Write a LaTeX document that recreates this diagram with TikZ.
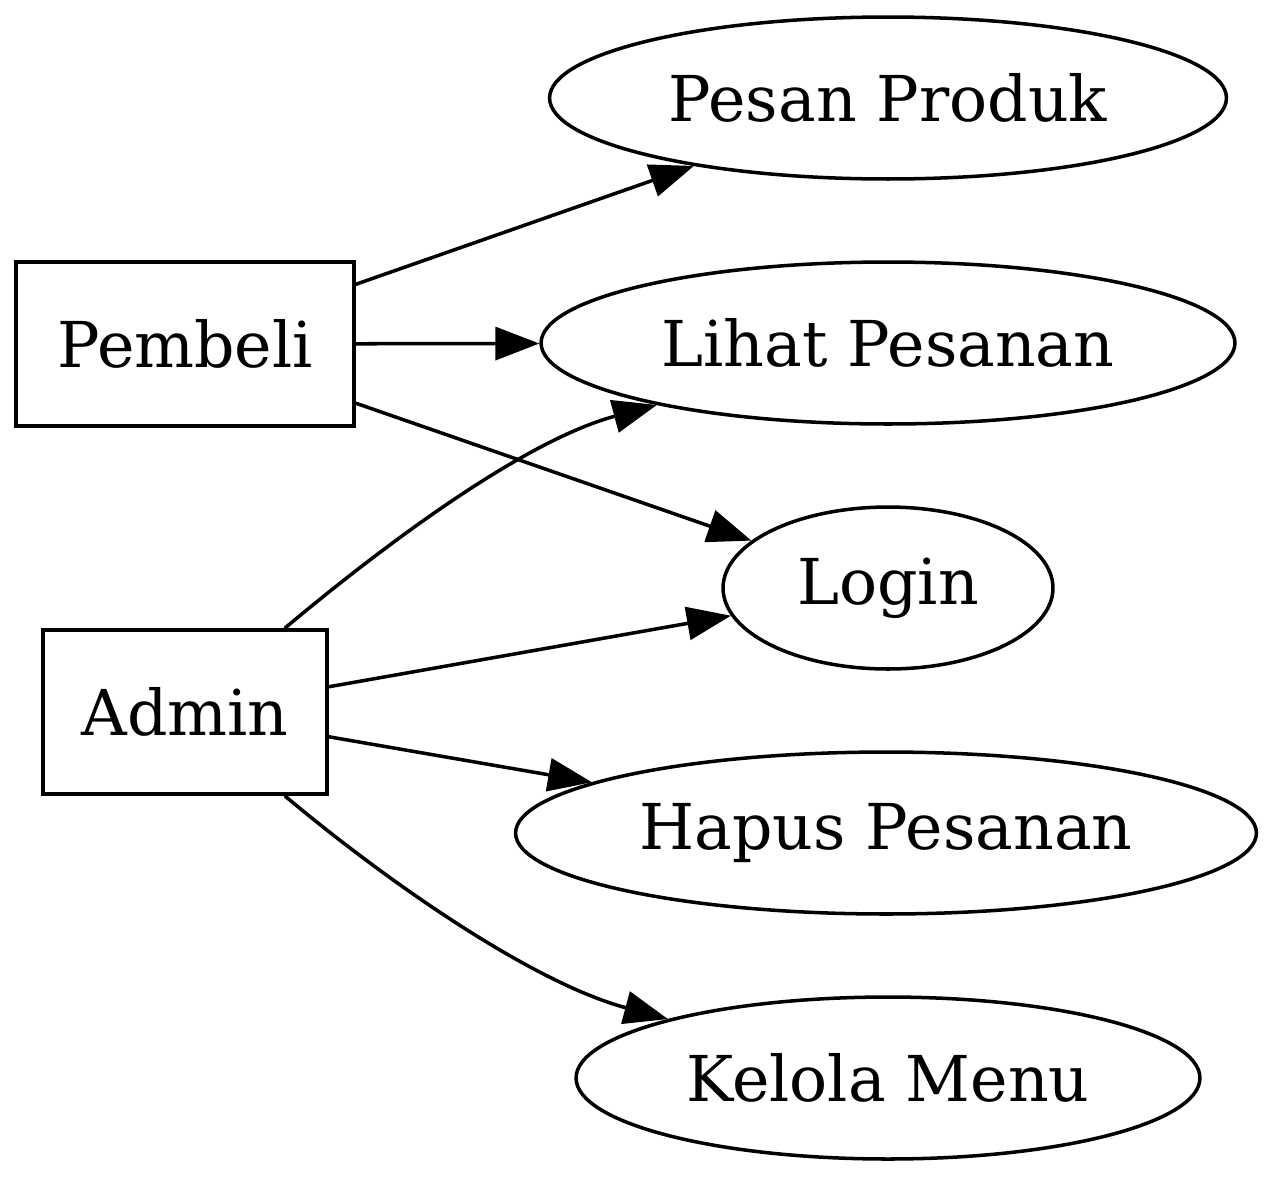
\documentclass[tikz,border=0pt]{standalone}
\usepackage{fontspec}
\setmainfont{DejaVu Serif}
\usetikzlibrary{
  arrows.meta,
  shapes.geometric
}
\tikzset{
  usecase/.style={draw,ellipse,line width=2pt,inner sep=0pt,minimum height=3.24cm,font=\fontsize{36}{40}\selectfont},
  actor/.style={draw,rectangle,line width=2pt,inner sep=0pt,minimum height=3.28cm,font=\fontsize{36}{40}\selectfont},
  assoc/.style={-{Triangle[length=0.88cm,width=0.66cm]},line width=2pt}
}
\begin{document}
\begin{tikzpicture}[x=0.02cm,y=-0.02cm]
\useasboundingbox (0,0) rectangle (1280,1181);
\node[usecase, minimum width=13.54cm] (pesan) at (888,98) {Pesan Produk};
\node[usecase, minimum width=13.88cm] (lihat) at (888,343) {Lihat Pesanan};
\node[usecase, minimum width=6.6cm] (login) at (888,588) {Login};
\node[usecase, minimum width=14.82cm] (hapus) at (886,833) {Hapus Pesanan};
\node[usecase, minimum width=12.48cm] (kelola) at (888,1078) {Kelola Menu};
\node[actor, minimum width=6.76cm] (pembeli) at (185,344) {Pembeli};
\node[actor, minimum width=5.68cm] (admin) at (185,712) {Admin};
% pembeli
\draw[assoc] (pembeli) -- (pesan);
\draw[assoc] (pembeli) -- (lihat);
\draw[assoc] (pembeli) -- (login);
% admin
\draw[assoc] (admin) to[out=40,in=195,looseness=0.8] (lihat);
\draw[assoc] (admin) -- (login);
\draw[assoc] (admin) -- (hapus);
\draw[assoc] (admin) to[out=-40,in=165,looseness=0.8] (kelola);
\end{tikzpicture}
\end{document}
